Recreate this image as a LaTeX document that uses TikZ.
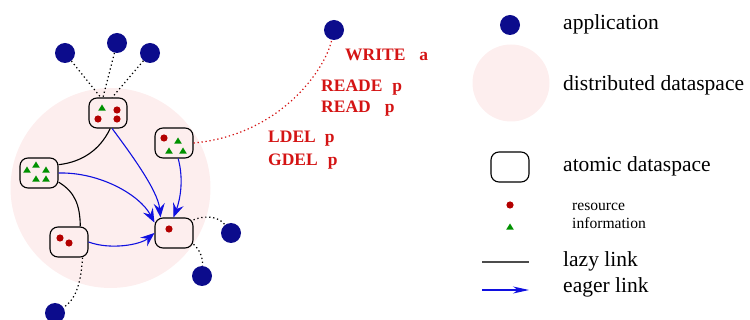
\documentclass[tikz,border=0pt]{standalone}
\usepackage{fontspec}
\setmainfont{Liberation Serif}
\usetikzlibrary{arrows.meta}
\definecolor{appblue}{HTML}{0C0C8C}
\definecolor{dspink}{HTML}{FDEEEE}
\definecolor{resred}{HTML}{B30000}
\definecolor{infgreen}{HTML}{009100}
\definecolor{opred}{HTML}{D41414}
\definecolor{eagerblue}{HTML}{1010E0}
\newcommand{\resdot}[1]{\fill[resred] (#1) circle (3.6pt);}
\newcommand{\infotri}[1]{\fill[infgreen] (#1) +(0,-3.5) -- +(3.8,2.6) -- +(-3.8,2.6) -- cycle;}
\tikzset{
  app/.style={circle,fill=appblue,minimum size=20pt,inner sep=0pt},
  dspace/.style={circle,fill=dspink,inner sep=0pt},
  atom/.style={draw=black,line width=1.1pt,rounded corners=8pt,minimum width=38pt,minimum height=30pt,inner sep=0pt},
  lazy/.style={line width=1.1pt},
  eager/.style={-{Stealth[length=14pt,width=11pt,inset=5pt]},eagerblue,line width=1.1pt},
  uses/.style={dash pattern=on 1.3pt off 2.7pt,line width=1.2pt},
  oplabel/.style={opred,font=\fontsize{17.5}{20}\selectfont\bfseries,anchor=base west,inner sep=0pt},
  legend/.style={font=\fontsize{21.5}{24}\selectfont,anchor=base west,inner sep=0pt},
  smalllegend/.style={font=\fontsize{15.6}{18}\selectfont,anchor=base west,inner sep=0pt}
}
\begin{document}
\begin{tikzpicture}[x=1pt,y=-1pt]
\useasboundingbox (0,0) rectangle (750,320);
% distributed dataspace
\node (ds) [dspace,minimum size=200pt] at (110.5,188) {};
%
\node (A) [atom] at (108,113) {};
\node (B) [atom] at (174,143) {};
\node (C) [atom] at (39,173) {};
\node (D) [atom] at (69,242) {};
\node (E) [atom] at (174,233) {};
%
\infotri{102,108} \resdot{117,110} \resdot{98,119} \resdot{117,119}
\resdot{164,138} \infotri{178,141} \infotri{169,151} \infotri{183,151}
\infotri{27,170} \infotri{36,165} \infotri{46,170} \infotri{36,179} \infotri{46,179}
\resdot{60,238} \resdot{69,243}
\resdot{169,229}
% applications
\node (a1) [app] at (65,53) {};
\node (a2) [app] at (117,43) {};
\node (a3) [app] at (150,53) {};
\node (a4) [app] at (231,233) {};
\node (a5) [app] at (202,276) {};
\node (a6) [app] at (55,313) {};
\node (a7) [app] at (334,30) {};
%
\draw[uses] (a1) -- (A.115);
\draw[uses] (a2) -- (A.108);
\draw[uses] (a3) -- (A.75);
\draw[uses] (E.34) .. controls (208,214) and (220,218) .. (a4);
\draw[uses] (E.-30) .. controls (200,250) and (203,258) .. (a5);
\draw[uses] (D.-49) .. controls (81,285) and (75,300) .. (a6);
\draw[uses,opred] (B.east) .. controls (280,135) and (325,70) .. (a7);
% lazy links
\draw[lazy] (A.-82) .. controls (100,150) and (82,162) .. (C.23);
\draw[lazy] (C.-25) .. controls (75,192) and (80,205) .. (D.54);
% eager links
\draw[eager] (A.-75) .. controls (128,150) and (158,190) .. (E.131);
\draw[eager] (B.-75) .. controls (184,180) and (180,200) .. (E.92);
\draw[eager] (C.east) .. controls (100,172) and (140,195) .. (E.152);
\draw[eager] (D.east) .. controls (110,250) and (140,245) .. (E.west);
% operations
\node (opw) [oplabel] at (345,61) {WRITE\hspace{14pt}a};
\node (opre) [oplabel] at (321,92) {READE\hspace{10pt}p};
\node (opr) [oplabel] at (321,113) {READ\hspace{14pt}p};
\node (opl) [oplabel] at (268,143) {LDEL\hspace{9pt}p};
\node (opg) [oplabel] at (268,166) {GDEL\hspace{10pt}p};
% legend
\node (lapp) [app] at (510,25) {};
\node (tapp) [legend] at (563,30) {application};
\node (lds) [dspace,minimum size=77pt] at (511,83) {};
\node (tds) [legend] at (563,91) {distributed dataspace};
\node (latom) [atom] at (510,167) {};
\node (tatom) [legend] at (563,172) {atomic dataspace};
\resdot{510,205}
\node (tres) [smalllegend] at (572,211) {resource};
\infotri{510,227}
\node (tinf) [smalllegend] at (572,229) {information};
\coordinate (lz1) at (482,262);
\coordinate (lz2) at (529,262);
\draw[lazy,black!70] (lz1) -- (lz2);
\node (tlazy) [legend] at (563,267) {lazy link};
\coordinate (eg1) at (482,290);
\coordinate (eg2) at (529,290);
\draw[eager,-{Stealth[length=16pt,width=7pt,inset=5pt]}] (eg1) -- (eg2);
\node (teager) [legend] at (563,293) {eager link};
\end{tikzpicture}
\end{document}
